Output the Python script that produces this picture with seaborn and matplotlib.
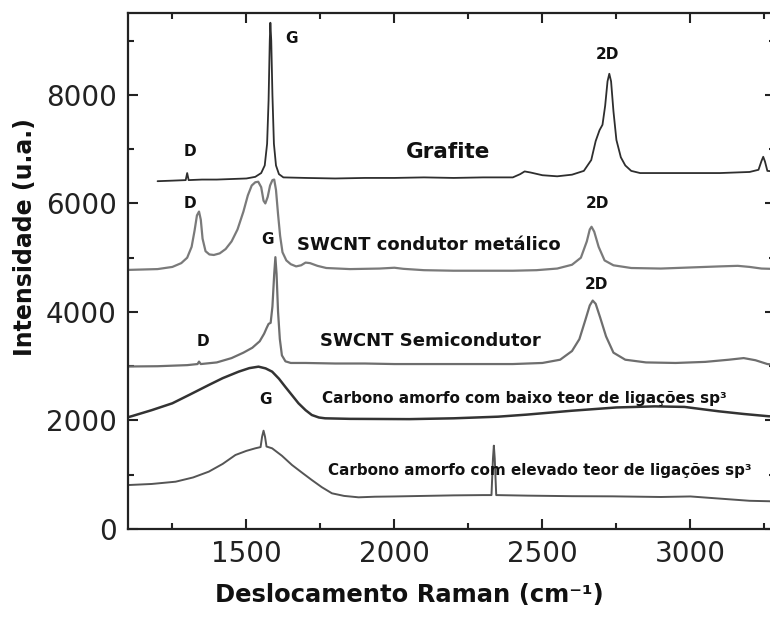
import matplotlib
matplotlib.use("Agg")
import matplotlib.pyplot as plt
from matplotlib.ticker import MultipleLocator
import seaborn as sns
import pandas as pd

# Raman shift (cm-1) and intensity (a.u.) for each spectrum, stacked with offsets
grafite_x = [1200, 1250, 1295, 1300, 1305, 1350, 1400, 1450, 1500, 1530, 1550, 1562, 1570,
             1575, 1579, 1581, 1584, 1588, 1593, 1600, 1610, 1625, 1700, 1800, 1900, 2000,
             2100, 2200, 2300, 2400, 2425, 2440, 2460, 2500, 2550, 2600, 2640, 2665, 2680,
             2693, 2703, 2712, 2720, 2726, 2732, 2740, 2750, 2765, 2780, 2800, 2830, 2900,
             3000, 3100, 3200, 3230, 3240, 3246, 3252, 3260, 3300]
grafite_y = [6410, 6420, 6430, 6560, 6430, 6440, 6440, 6450, 6460, 6490, 6560, 6700, 7100,
             7900, 9000, 9330, 9000, 8000, 7100, 6700, 6540, 6480, 6470, 6460, 6470, 6470,
             6480, 6470, 6480, 6480, 6540, 6590, 6570, 6520, 6500, 6530, 6600, 6800, 7150,
             7350, 7450, 7800, 8250, 8390, 8250, 7700, 7170, 6850, 6700, 6600, 6560, 6560,
             6560, 6560, 6580, 6620, 6780, 6860, 6770, 6600, 6580]

metalico_x = [1100, 1200, 1250, 1280, 1300, 1315, 1325, 1333, 1340, 1346, 1352, 1362, 1375,
              1390, 1410, 1430, 1450, 1470, 1490, 1505, 1518, 1530, 1540, 1550, 1558, 1564,
              1572, 1580, 1588, 1594, 1600, 1607, 1614, 1622, 1635, 1650, 1668, 1685, 1700,
              1715, 1740, 1770, 1850, 1950, 2000, 2030, 2100, 2200, 2300, 2400, 2480, 2550,
              2600, 2630, 2650, 2660, 2666, 2675, 2690, 2710, 2740, 2800, 2900, 3000, 3100,
              3160, 3200, 3240, 3300]
metalico_y = [4775, 4790, 4830, 4900, 5000, 5200, 5500, 5780, 5850, 5700, 5350, 5120, 5060,
              5050, 5080, 5160, 5300, 5520, 5850, 6150, 6330, 6390, 6400, 6300, 6050, 6000,
              6120, 6330, 6430, 6440, 6250, 5800, 5400, 5100, 4950, 4880, 4840, 4860, 4910,
              4900, 4850, 4810, 4790, 4800, 4815, 4795, 4770, 4760, 4760, 4760, 4770, 4800,
              4870, 5000, 5300, 5520, 5570, 5480, 5200, 4950, 4860, 4810, 4800, 4820, 4840,
              4850, 4830, 4800, 4790]

semi_x = [1100, 1200, 1300, 1335, 1340, 1346, 1400, 1450, 1490, 1520, 1545, 1560, 1568,
          1575, 1582, 1588, 1594, 1598, 1602, 1607, 1613, 1620, 1632, 1650, 1700, 1800,
          1900, 2000, 2200, 2400, 2500, 2560, 2600, 2625, 2645, 2660, 2670, 2680, 2695,
          2715, 2740, 2780, 2850, 2950, 3050, 3130, 3180, 3220, 3260, 3300]
semi_y = [2995, 3000, 3020, 3040, 3085, 3040, 3070, 3150, 3250, 3340, 3460, 3600, 3700,
          3780, 3800, 4100, 4700, 5010, 4700, 4000, 3500, 3200, 3090, 3060, 3060, 3050,
          3050, 3040, 3040, 3040, 3060, 3120, 3280, 3500, 3850, 4120, 4210, 4150, 3900,
          3550, 3250, 3120, 3070, 3060, 3080, 3120, 3150, 3110, 3040, 3020]

baixo_x = [1100, 1115, 1180, 1250, 1310, 1373, 1420, 1474, 1510, 1541, 1565, 1587, 1610,
           1631, 1655, 1676, 1700, 1721, 1745, 1766, 1850, 1934, 2050, 2200, 2350, 2447,
           2600, 2750, 2880, 2980, 3096, 3180, 3264, 3300]
baixo_y = [2060, 2083, 2190, 2317, 2480, 2654, 2780, 2900, 2965, 2992, 2960, 2900, 2770,
           2623, 2460, 2317, 2190, 2101, 2055, 2040, 2030, 2028, 2025, 2040, 2070, 2108,
           2180, 2240, 2260, 2250, 2169, 2120, 2078, 2070]

elevado_x = [1100, 1180, 1261, 1320, 1373, 1420, 1463, 1500, 1530, 1548, 1553, 1558, 1563,
             1568, 1587, 1620, 1654, 1690, 1721, 1755, 1789, 1830, 1879, 1934, 2000, 2100,
             2200, 2300, 2328, 2333, 2336, 2339, 2344, 2450, 2600, 2737, 2900, 3000, 3100,
             3200, 3264, 3300]
elevado_y = [810, 830, 872, 950, 1057, 1200, 1364, 1440, 1487, 1510, 1700, 1812, 1700,
             1520, 1487, 1350, 1180, 1030, 903, 770, 658, 610, 584, 595, 600, 610,
             620, 625, 625, 1300, 1536, 1300, 625, 615, 605, 602, 590, 600, 560,
             520, 512, 505]

sns.set_theme(style="ticks")
plt.rcParams["font.family"] = ["DejaVu Sans"]

fig = plt.figure(figsize=(7.7, 6.18), dpi=100)
ax = fig.add_axes([0.1662, 0.144, 0.840, 0.835])

series = [
    (grafite_x, grafite_y, "#2e2e2e", 1.3),
    (metalico_x, metalico_y, "#7a7a7a", 1.6),
    (semi_x, semi_y, "#6e6e6e", 1.6),
    (baixo_x, baixo_y, "#333333", 1.8),
    (elevado_x, elevado_y, "#555555", 1.4),
]
for xs, ys, col, lw in series:
    df = pd.DataFrame({"x": xs, "y": ys})
    sns.lineplot(data=df, x="x", y="y", ax=ax, color=col, linewidth=lw,
                 estimator=None, sort=False)

ax.set_xlim(1100, 3285)
ax.set_ylim(0, 9510)
ax.xaxis.set_major_locator(MultipleLocator(500))
ax.xaxis.set_minor_locator(MultipleLocator(250))
ax.yaxis.set_major_locator(MultipleLocator(2000))
ax.yaxis.set_minor_locator(MultipleLocator(1000))
ax.tick_params(which="both", direction="in", top=True, right=True, width=1.5,
               color="#222222", labelsize=20, labelcolor="#222222")
ax.tick_params(which="major", length=7.5, pad=8)
ax.tick_params(which="minor", length=4)
for s in ax.spines.values():
    s.set_linewidth(1.6)
    s.set_color("#222222")

ax.set_xlabel("Deslocamento Raman (cm⁻¹)", fontsize=17.5, fontweight="bold",
              color="#111111")
ax.set_ylabel("Intensidade (u.a.)", fontsize=17, fontweight="bold", color="#111111")
ax.xaxis.set_label_coords(0.435, -0.104)
ax.yaxis.set_label_coords(-0.140, 0.566)

peak = dict(fontsize=11, fontweight="bold", ha="center", va="center", color="#111111")
ax.text(1311, 6950, "D", **peak)
ax.text(1652, 9032, "G", **peak)
ax.text(2720, 8750, "2D", **peak)
ax.text(2183, 6950, "Grafite", fontsize=15.5, fontweight="bold", ha="center",
        va="center", color="#111111")

ax.text(1311, 6003, "D", **peak)
ax.text(1570, 5340, "G", **peak)
ax.text(2686, 6000, "2D", **peak)
ax.text(2117, 5243, "SWCNT condutor metálico", fontsize=13, fontweight="bold",
        ha="center", va="center", color="#111111")

ax.text(1353, 3453, "D", **peak)
ax.text(2684, 4505, "2D", **peak)
ax.text(2123, 3458, "SWCNT Semicondutor", fontsize=13, fontweight="bold",
        ha="center", va="center", color="#111111")

ax.text(1564, 2390, "G", **peak)
ax.text(2440, 2410, "Carbono amorfo com baixo teor de ligações sp³", fontsize=11,
        fontweight="bold", ha="center", va="center", color="#111111")
ax.text(2490, 1084, "Carbono amorfo com elevado teor de ligações sp³", fontsize=10.9,
        fontweight="bold", ha="center", va="center", color="#111111")

fig.savefig("out.png", dpi=100)
